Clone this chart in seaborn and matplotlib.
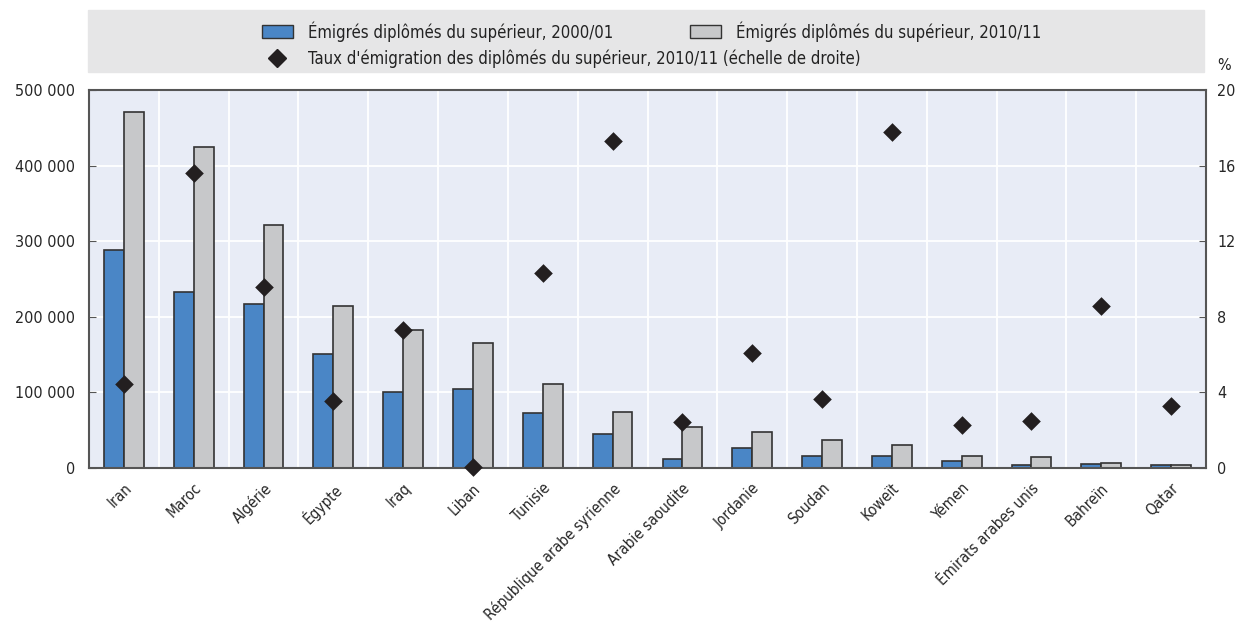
import matplotlib.pyplot as plt
import matplotlib.patches as mpatches
import matplotlib.lines as mlines
import matplotlib.ticker as mticker
import seaborn as sns
import pandas as pd
import numpy as np

countries = ['Iran', 'Maroc', 'Algérie', 'Égypte', 'Iraq', 'Liban', 'Tunisie',
             'République arabe syrienne', 'Arabie saoudite', 'Jordanie', 'Soudan',
             'Koweït', 'Yémen', 'Émirats arabes unis', 'Bahreïn', 'Qatar']
emig_2000 = [289000, 233000, 217000, 151000, 100000, 104000, 73000, 45000,
             12000, 26000, 16000, 16000, 9000, 3500, 5000, 3500]
emig_2010 = [470500, 424000, 321500, 214500, 182000, 165000, 110500, 74500,
             54000, 47000, 37000, 30000, 15500, 14500, 7000, 4000]
taux_2010 = [4.45, 15.6, 9.6, 3.55, 7.3, 0.07, 10.3, 17.3,
             2.45, 6.1, 3.65, 17.8, 2.25, 2.5, 8.55, 3.3]
lab_2000 = 'Émigrés diplômés du supérieur, 2000/01'
lab_2010 = 'Émigrés diplômés du supérieur, 2010/11'
lab_taux = "Taux d'émigration des diplômés du supérieur, 2010/11 (échelle de droite)"

blue = '#4a86c6'
grey = '#c7c8ca'
edge = '#333333'
dark = '#231f20'

sns.set_style('white')
plt.rcParams['font.family'] = ['DejaVu Sans']
plt.rcParams['font.stretch'] = 'condensed'
plt.rcParams['font.size'] = 11
plt.rcParams['text.color'] = '#222222'

df = pd.DataFrame({'pays': countries * 2,
                   'valeur': emig_2000 + emig_2010,
                   'serie': [lab_2000] * len(countries) + [lab_2010] * len(countries)})
df_taux = pd.DataFrame({'pays': countries, 'taux': taux_2010})

fig = plt.figure(figsize=(12.39, 6.24), dpi=100)
ax = fig.add_axes([89 / 1239, 1 - 468 / 624, (1206 - 89) / 1239, 378 / 624])
ax.set_facecolor('#e8ecf6')

sns.barplot(data=df, x='pays', y='valeur', hue='serie', order=countries,
            palette=[blue, grey], saturation=1, width=0.57, edgecolor=edge, linewidth=1.2,
            legend=False, ax=ax)
ax.set_ylim(0, 500000)
ax.set_xlim(-0.5, len(countries) - 0.5)
ax.set_yticks(np.arange(0, 500001, 100000))
ax.yaxis.set_major_formatter(mticker.FuncFormatter(lambda v, p: f'{int(v):,}'.replace(',', ' ')))
ax.set_xlabel('')
ax.set_ylabel('')
ax.set_axisbelow(True)
ax.xaxis.set_minor_locator(mticker.FixedLocator(np.arange(0.5, len(countries) - 1, 1)))
ax.grid(axis='y', which='major', color='white', linewidth=1.3)
ax.grid(axis='x', which='minor', color='white', linewidth=1.3)
ax.tick_params(axis='x', which='major', length=0, pad=9)
ax.tick_params(axis='x', which='minor', direction='in', length=5, color='#555555')
ax.tick_params(axis='y', direction='in', length=5, color='#555555', labelsize=11.5, pad=10)
plt.setp(ax.get_xticklabels(), rotation=45, ha='right', rotation_mode='anchor', fontsize=11)
for s in ax.spines.values():
    s.set_color('#555555')
    s.set_linewidth(1.5)

ax2 = ax.twinx()
sns.stripplot(data=df_taux, x='pays', y='taux', order=countries, jitter=False,
              marker='D', size=9.5, color=dark, linewidth=0, ax=ax2)
for c in ax2.collections:
    c.set_clip_on(False)
ax2.set_ylim(0, 20)
ax2.set_xlim(-0.5, len(countries) - 0.5)
ax2.set_yticks([0, 4, 8, 12, 16, 20])
ax2.set_ylabel('')
ax2.set_xlabel('')
ax2.tick_params(axis='y', direction='in', length=5, color='#555555', labelsize=11.5, pad=8)
ax2.tick_params(axis='x', which='both', length=0)
for s in ax2.spines.values():
    s.set_visible(False)

# legend band
fig.patches.append(mpatches.Rectangle((88 / 1239, 1 - 72 / 624), (1204 - 88) / 1239, 62 / 624,
                                      transform=fig.transFigure, color='#e6e6e7', zorder=0))
h_blue = mpatches.Patch(facecolor=blue, edgecolor=edge, linewidth=1, label=lab_2000)
h_grey = mpatches.Patch(facecolor=grey, edgecolor=edge, linewidth=1, label=lab_2010)
h_taux = mlines.Line2D([], [], color=dark, marker='D', linestyle='', markersize=9, label=lab_taux)
leg1 = fig.legend(handles=[h_blue, h_grey], loc='upper left', bbox_to_anchor=(262 / 1239, 1 - 21 / 624),
                  ncol=2, frameon=False, fontsize=12, handlelength=1.85, handleheight=0.85,
                  handletextpad=0.9, columnspacing=4.6, borderpad=0, borderaxespad=0)
leg2 = fig.legend(handles=[h_taux], loc='upper left', bbox_to_anchor=(262 / 1239, 1 - 49 / 624),
                  frameon=False, fontsize=12, handlelength=1.85, handletextpad=0.9,
                  borderpad=0, borderaxespad=0)
fig.text(1224 / 1239, 1 - 65 / 624, '%', ha='center', va='center', fontsize=11.5)

fig.savefig('out.png', dpi=100)
